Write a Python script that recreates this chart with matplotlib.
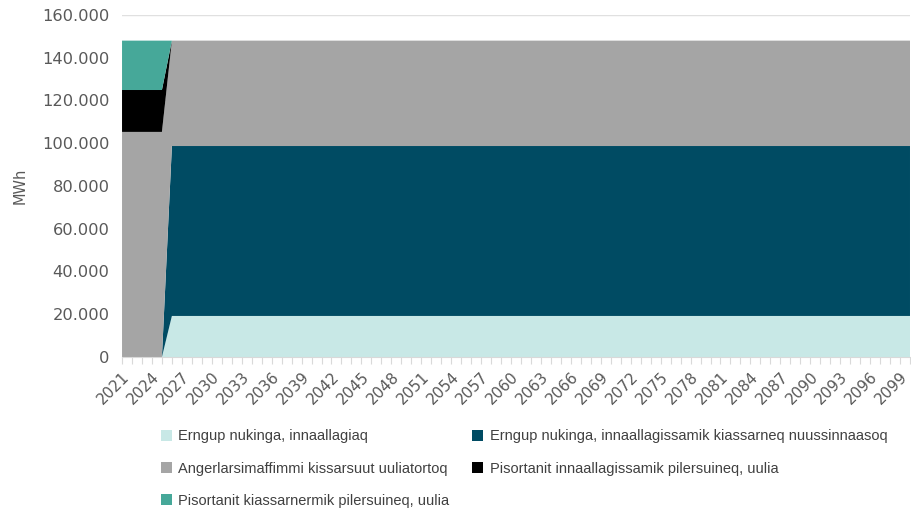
import numpy as np
import matplotlib
matplotlib.use("Agg")
from matplotlib import pyplot as plt
from matplotlib.patches import Patch
from matplotlib.ticker import FuncFormatter

years = list(range(2021, 2101))
# MWh per year (2021-2025 old situation, 2026-2100 new)
erngup_innaallagiaq = [0] * 5 + [19200] * 75
erngup_nuussinnaasoq = [0] * 5 + [79500] * 75
angerlarsimaffimmi = [105300] * 5 + [49300] * 75
pisortanit_innaallagissamik = [19600] * 5 + [0] * 75
pisortanit_kiassarnermik = [23100] * 5 + [0] * 75

names = ["Erngup nukinga, innaallagiaq",
         "Erngup nukinga, innaallagissamik kiassarneq nuussinnaasoq",
         "Angerlarsimaffimmi kissarsuut uuliatortoq",
         "Pisortanit innaallagissamik pilersuineq, uulia",
         "Pisortanit kiassarnermik pilersuineq, uulia"]
colors = ["#C8E8E6", "#004B63", "#A5A5A5", "#000000", "#46A899"]

fig = plt.figure(figsize=(9.12, 5.13), dpi=100)
ax = fig.add_axes([0.1338, 0.3041, 0.864, 0.6667])

ax.stackplot(years, erngup_innaallagiaq, erngup_nuussinnaasoq, angerlarsimaffimmi,
             pisortanit_innaallagissamik, pisortanit_kiassarnermik,
             colors=colors, zorder=2, linewidth=0)

ax.set_xlim(2021, 2100)
ax.set_ylim(0, 160000)
ax.set_yticks(np.arange(0, 160001, 20000))
ax.yaxis.set_major_formatter(FuncFormatter(lambda v, p: f"{int(v):,}".replace(",", ".")))
ax.grid(axis="y", color="#E0E0E0", linewidth=1, zorder=0)
ax.set_axisbelow(True)

ax.set_xticks(years)
ax.set_xticklabels([str(y) if (y - 2021) % 3 == 0 else "" for y in years],
                   rotation=45, ha="right", rotation_mode="anchor")
ax.tick_params(axis="x", length=5, color="#D9D9D9", labelsize=11,
               labelcolor="#595959", pad=4)
ax.tick_params(axis="y", length=0, labelsize=11.7, labelcolor="#595959", pad=9)
for s in ["top", "right", "left"]:
    ax.spines[s].set_visible(False)
ax.spines["bottom"].set_color("#D9D9D9")

ax.set_ylabel("MWh", color="#595959", fontsize=10.5, labelpad=2)
ax.yaxis.set_label_coords(-0.12, 0.5)

legend_font = {"family": ["Liberation Sans Narrow", "Liberation Sans", "DejaVu Sans"],
               "size": 10.5}
columns = [([0, 2, 4], 0.1765), ([1, 3], 0.518)]
for idx, x0 in columns:
    leg = fig.legend([Patch(facecolor=colors[i], edgecolor="none") for i in idx],
                     [names[i] for i in idx], loc="upper left",
                     bbox_to_anchor=(x0, 0.163), frameon=False,
                     handlelength=0.75, handleheight=0.75, handletextpad=0.45,
                     labelspacing=1.25, borderpad=0, borderaxespad=0,
                     prop=legend_font, labelcolor="#404040")

fig.savefig("out.png", dpi=100)
